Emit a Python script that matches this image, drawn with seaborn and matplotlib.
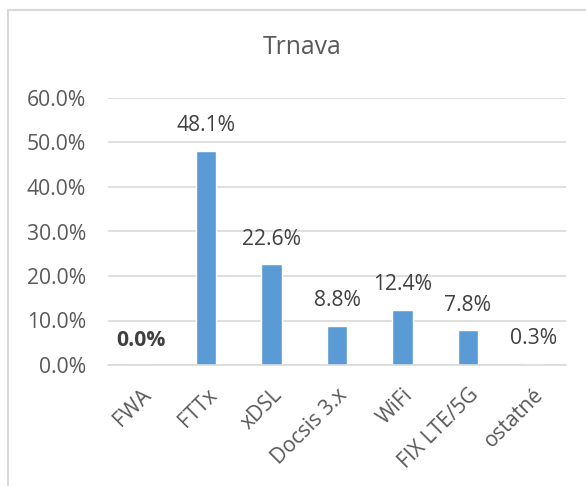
import matplotlib
matplotlib.use("Agg")
import matplotlib.pyplot as plt
import seaborn as sns
import pandas as pd
from matplotlib.patches import Rectangle
from matplotlib.ticker import FuncFormatter, MultipleLocator

categories = ["FWA", "FTTx", "xDSL", "Docsis 3.x", "WiFi", "FIX LTE/5G", "ostatné"]
values = [0.0, 48.1, 22.6, 8.8, 12.4, 7.8, 0.3]
title = "Trnava"

sns.set_theme(style="white")
plt.rcParams["font.family"] = ["Open Sans", "DejaVu Sans"]

W, H = 586, 486
fig = plt.figure(figsize=(W / 100, H / 100), dpi=100)
ax = fig.add_axes([108 / W, (H - 365) / H, (566 - 108) / W, (365 - 98) / H])

df = pd.DataFrame({"cat": categories, "val": values})
sns.barplot(data=df, x="cat", y="val", color="#5b9bd5", saturation=1, width=0.31, ax=ax)

FS = 15.2
ax.set_ylim(0, 60)
ax.set_xlim(-0.5, len(categories) - 0.5)
ax.yaxis.set_major_locator(MultipleLocator(10))
ax.yaxis.set_major_formatter(FuncFormatter(lambda v, p: f"{v:.1f}%"))
ax.grid(axis="y", color="#d9d9d9", linewidth=1.2)
ax.set_axisbelow(True)
for s in ["top", "right", "left"]:
    ax.spines[s].set_visible(False)
ax.spines["bottom"].set_color("#d9d9d9")
ax.spines["bottom"].set_linewidth(1.2)
ax.set_xlabel("")
ax.set_ylabel("")
ax.tick_params(axis="y", length=0, pad=16, labelsize=FS, labelcolor="#595959")
ax.tick_params(axis="x", length=0, pad=14, labelsize=FS, labelcolor="#595959")
for lbl in ax.get_xticklabels():
    lbl.set_rotation(45)
    lbl.set_ha("right")
    lbl.set_va("top")
    lbl.set_rotation_mode("anchor")

for i, v in enumerate(values):
    ax.annotate(f"{v:.1f}%", xy=(i, v), xytext=(0, 18), textcoords="offset points",
                ha="center", va="center", fontsize=FS, color="#404040",
                fontweight="bold" if v == 0 else "normal")

fig.text(302 / W, 1 - 48 / H, title, ha="center", va="center", fontsize=17.8, color="#595959")

fig.patches.append(Rectangle((8 / W, -0.1), 1.2, (H - 10) / H + 0.1, transform=fig.transFigure,
                             fill=False, edgecolor="#d9d9d9", linewidth=1.5))

fig.savefig("out.png", dpi=100)
